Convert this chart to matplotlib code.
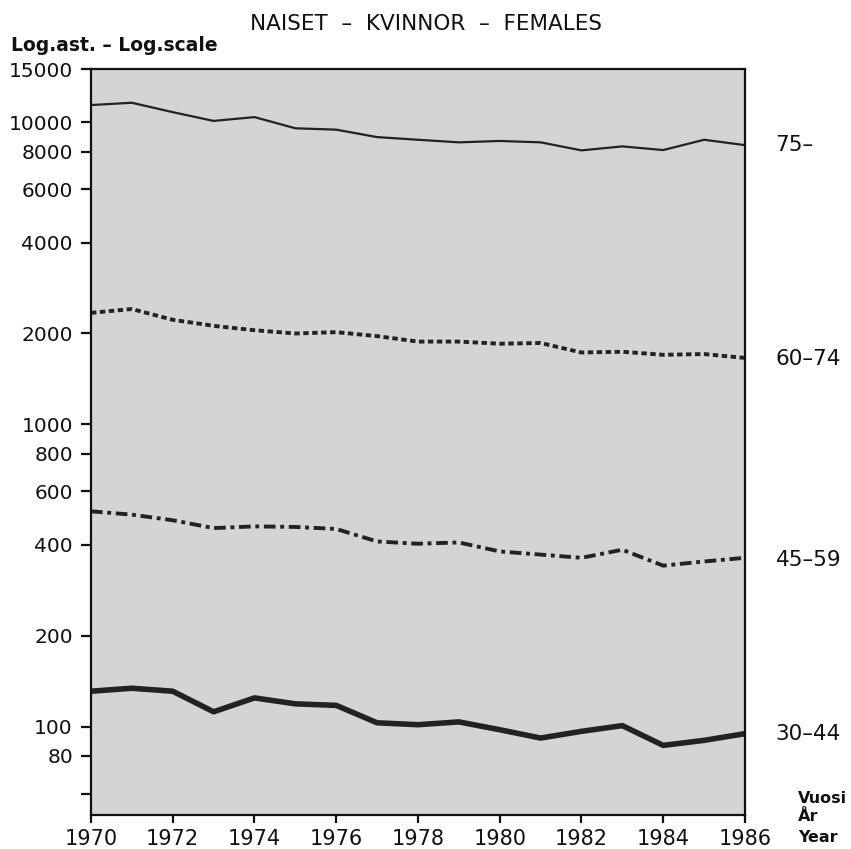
import matplotlib
matplotlib.use("Agg")
import matplotlib.pyplot as plt
from matplotlib.ticker import FixedLocator, NullLocator

years = list(range(1970, 1987))
age_75 = [11400, 11600, 10800, 10100, 10400, 9550, 9450, 8930, 8750, 8580, 8670, 8580, 8070, 8320, 8090, 8750, 8400]
age_60_74 = [2340, 2410, 2220, 2120, 2050, 2000, 2020, 1960, 1880, 1880, 1850, 1860, 1730, 1740, 1700, 1710, 1660]
age_45_59 = [516, 503, 482, 454, 460, 458, 451, 410, 403, 407, 380, 371, 362, 385, 341, 352, 362]
age_30_44 = [131, 134, 131, 112, 124.5, 119, 117.6, 103, 101.5, 103.7, 97.7, 91.7, 96.5, 100.8, 86.7, 90.1, 94.8]

series_labels = ["75\u2013", "60\u201374", "45\u201359", "30\u201344"]
y_ticks = [15000, 10000, 8000, 6000, 4000, 2000, 1000, 800, 600, 400, 200, 100, 80, 60]
y_tick_labels = ["15000", "10000", "8000", "6000", "4000", "2000", "1000", "800", "600", "400", "200", "100", "80", ""]
x_ticks = list(range(1970, 1987, 2))

fig = plt.figure(figsize=(8.51, 8.49), dpi=100)
ax = fig.add_axes([0.1069, 0.0400, 0.7685, 0.8787])
ax.set_facecolor("#d4d4d4")

col = "#222222"
ax.plot(years, age_75, color=col, lw=1.6, solid_joinstyle="round")
ax.plot(years, age_60_74, color=col, lw=2.8, linestyle=(0, (1.4, 0.9)))
ax.plot(years, age_45_59, color=col, lw=2.8, linestyle=(0, (3.0, 1.2, 1.0, 1.2)))
ax.plot(years, age_30_44, color=col, lw=4.0, solid_joinstyle="round")

ax.set_yscale("log")
ax.set_ylim(51, 15000)
ax.set_xlim(1970, 1986)
ax.yaxis.set_major_locator(FixedLocator(y_ticks))
ax.yaxis.set_minor_locator(NullLocator())
ax.set_yticklabels(y_tick_labels)
ax.set_xticks(x_ticks)
ax.set_xticklabels([str(x) for x in x_ticks])

ax.tick_params(axis="y", direction="out", length=7, width=1.6, labelsize=14.5, pad=6, colors="#111111")
ax.tick_params(axis="x", direction="out", length=6, width=1.6, labelsize=15, pad=4, colors="#111111")
for s in ax.spines.values():
    s.set_linewidth(1.6)
    s.set_color("#111111")

# right-side series labels
last_vals = [age_75[-1], age_60_74[-1], age_45_59[-1], age_30_44[-1]]
label_offsets = [1.0, 0.99, 0.985, 1.0]
for lab, v, o in zip(series_labels, last_vals, label_offsets):
    ax.annotate(lab, xy=(1, v * o), xycoords=("axes fraction", "data"),
                xytext=(22, 0), textcoords="offset points", fontsize=15.5,
                va="center", ha="left", color="#111111")

fig.text(0.5, 0.972, "NAISET  \u2013  KVINNOR  \u2013  FEMALES", ha="center", va="center",
         fontsize=15.5, color="#111111")
fig.text(0.013, 0.946, "Log.ast. \u2013 Log.scale", ha="left", va="center",
         fontsize=13.5, fontweight="bold", color="#111111")
fig.text(0.938, 0.060, "Vuosi", ha="left", va="center", fontsize=11.5, fontweight="bold", color="#111111")
fig.text(0.938, 0.0377, "\u00c5r", ha="left", va="center", fontsize=11.5, fontweight="bold", color="#111111")
fig.text(0.938, 0.014, "Year", ha="left", va="center", fontsize=11.5, fontweight="bold", color="#111111")

fig.savefig("out.png", dpi=100)
